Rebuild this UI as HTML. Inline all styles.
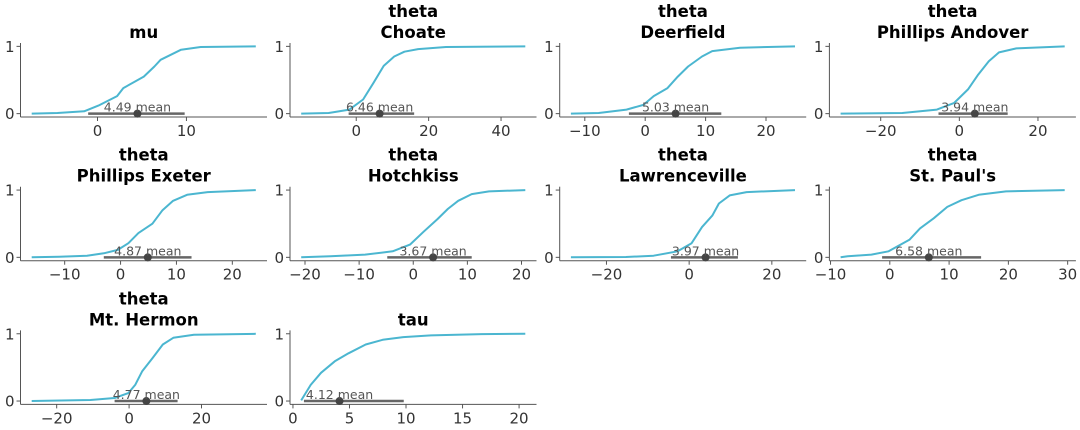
<!DOCTYPE html>
<html><head><meta charset="utf-8"><style>
html,body{margin:0;padding:0;background:#fff;}
svg{display:block;font-family:"DejaVu Sans","Liberation Sans",sans-serif;}
</style></head><body>
<svg id="chart" width="1080" height="430" viewBox="0 0 1080 430" xmlns="http://www.w3.org/2000/svg"></svg>
<script>
const titles = [["mu"],["theta","Choate"],["theta","Deerfield"],["theta","Phillips Andover"],["theta","Phillips Exeter"],["theta","Hotchkiss"],["theta","Lawrenceville"],["theta","St. Paul's"],["theta","Mt. Hermon"],["tau"]];
const means = [4.49,6.46,5.03,3.94,4.87,3.67,3.97,6.58,4.77,4.12];
const hdiLow = [-1.05,-2.1,-2.7,-5.3,-3.0,-4.8,-4.4,-1.3,-4.0,0.97];
const hdiHigh = [9.8,16.0,12.6,12.3,12.7,10.8,11.8,15.4,13.4,9.8];
const xTicks = [[0,10],[0,20,40],[-10,0,10,20],[-20,0,20],[-10,0,10,20],[-20,-10,0,10,20],[-20,0,20],[-10,0,10,20,30],[-20,0,20],[0,5,10,15,20]];
const ecdfX = [
 [-7.4,-4.5,-1.5,0.1,2.2,2.9,5.2,6.4,7.1,9.4,11.6,17.8],
 [-15.2,-7.6,-1.9,1.9,4.8,7.6,10.5,13.3,17.1,24.8,46.7],
 [-12.3,-7.7,-3.1,-0.3,1.4,3.7,5.4,7.1,9.4,11.1,15.7,24.8],
 [-30.2,-14.5,-5.7,-1.3,2.2,4.8,7.5,10.1,14.5,26.8],
 [-15.9,-11.0,-6.0,-3.0,-0.5,1.4,3.2,5.7,7.5,9.4,11.9,15.6,24.2],
 [-20.7,-15.3,-8.9,-3.8,-0.6,1.9,4.5,6.4,8.3,10.8,14.0,20.7],
 [-28.6,-15.3,-8.6,-2.8,0.6,3.1,5.6,7.2,9.8,13.9,25.6],
 [-8.3,-7.1,-3.1,-0.2,3.3,5.1,7.4,9.7,12.1,15.0,19.6,29.5],
 [-26.9,-10.7,-4.0,-0.2,1.7,3.6,6.5,9.3,12.2,17.9,35.0],
 [0.73,1.57,2.48,3.70,4.91,6.43,7.94,9.76,12.2,16.7,20.55]
];
const ecdfY = [
 [0,0.01,0.035,0.12,0.26,0.38,0.55,0.70,0.80,0.95,0.99,1],
 [0,0.01,0.06,0.21,0.46,0.71,0.85,0.92,0.96,0.99,1],
 [0,0.01,0.06,0.13,0.26,0.38,0.55,0.70,0.85,0.93,0.98,1],
 [0,0.01,0.06,0.16,0.36,0.58,0.78,0.91,0.97,1],
 [0,0.01,0.025,0.06,0.11,0.21,0.36,0.50,0.70,0.84,0.93,0.97,1],
 [0,0.015,0.04,0.09,0.19,0.38,0.57,0.72,0.84,0.94,0.98,1],
 [0,0.005,0.025,0.09,0.21,0.45,0.62,0.80,0.92,0.97,1],
 [0,0.015,0.04,0.09,0.26,0.43,0.58,0.75,0.85,0.93,0.98,1],
 [0,0.015,0.045,0.12,0.24,0.44,0.64,0.84,0.94,0.985,1],
 [0.01,0.24,0.42,0.59,0.71,0.84,0.91,0.95,0.975,0.995,1]
];
const yTicks = [0,1];

const NS="http://www.w3.org/2000/svg";
const svg=document.getElementById('chart');
function mk(tag,attrs,parent){const e=document.createElementNS(NS,tag);for(const k in attrs)e.setAttribute(k,attrs[k]);(parent||svg).appendChild(e);return e;}
const colLeft=[20.5,290,559.7,829.4], W=246.5, rowTop=[43,186.7,330.4], H=74;
const fmt=v=>v<0?"\u2212"+Math.abs(v):String(v);

titles.forEach((t,i)=>{
  const r=Math.floor(i/4), c=i%4;
  const L=colLeft[c], T=rowTop[r], B=T+H, R=L+W;
  const xs=ecdfX[i], ys=ecdfY[i];
  const mn=Math.min(...xs), mx=Math.max(...xs), sp=mx-mn;
  const x0=mn-0.05*sp, x1=mx+0.05*sp;
  const X=v=>L+(v-x0)/(x1-x0)*W;
  const Y=v=>B-(v+0.05)/1.1*H;
  const g=mk('g',{});
  
  
  const sl=mk('line',{x1:L,y1:T,x2:L,y2:B,stroke:'#555',"stroke-width":1},g);
  
  const sb=mk('line',{x1:L,y1:B,x2:R,y2:B,stroke:'#555',"stroke-width":1},g);
  
  yTicks.forEach(v=>{
    const y=Y(v);
    const tk=mk('line',{x1:L-4,y1:y,x2:L,y2:y,stroke:'#555'},g);
    
    const tx=mk('text',{x:L-6,y:y+5.5,"text-anchor":"end","font-size":15,fill:'#333'},g);
    tx.textContent=fmt(v);
    
  });
  xTicks[i].forEach(v=>{
    const x=X(v);
    const tk=mk('line',{x1:x,y1:B,x2:x,y2:B+4,stroke:'#555'},g);
    
    const tx=mk('text',{x:x,y:B+19,"text-anchor":"middle","font-size":15,fill:'#333'},g);
    tx.textContent=fmt(v);
    
  });
  const pts=xs.map((v,k)=>X(v).toFixed(1)+','+Y(ys[k]).toFixed(1)).join(' ');
  const pl=mk('polyline',{points:pts,fill:'none',stroke:'#4bb6d0',"stroke-width":2,"stroke-linejoin":"round"},g);
  
  const hl=mk('line',{x1:X(hdiLow[i]),y1:Y(0),x2:X(hdiHigh[i]),y2:Y(0),stroke:'#666',"stroke-width":2.5},g);
  
  const dot=mk('circle',{cx:X(means[i]),cy:Y(0),r:4,fill:'#444'},g);
  
  const mt=mk('text',{x:X(means[i]),y:Y(0)-2,"text-anchor":"middle","font-size":12.5,fill:'#555'},g);
  mt.textContent=means[i].toFixed(2)+' mean';
  
  const cx=L+W/2;
  const tt=mk('text',{x:cx,"text-anchor":"middle","font-size":16.5,"font-weight":"bold",fill:'#000'},g);
  
  if(t.length===1){tt.setAttribute('y',T-5);tt.textContent=t[0];}
  else{
    const a=mk('tspan',{x:cx,y:T-26},tt);a.textContent=t[0];
    const b=mk('tspan',{x:cx,y:T-5},tt);b.textContent=t[1];
  }
});
</script>
</body></html>
